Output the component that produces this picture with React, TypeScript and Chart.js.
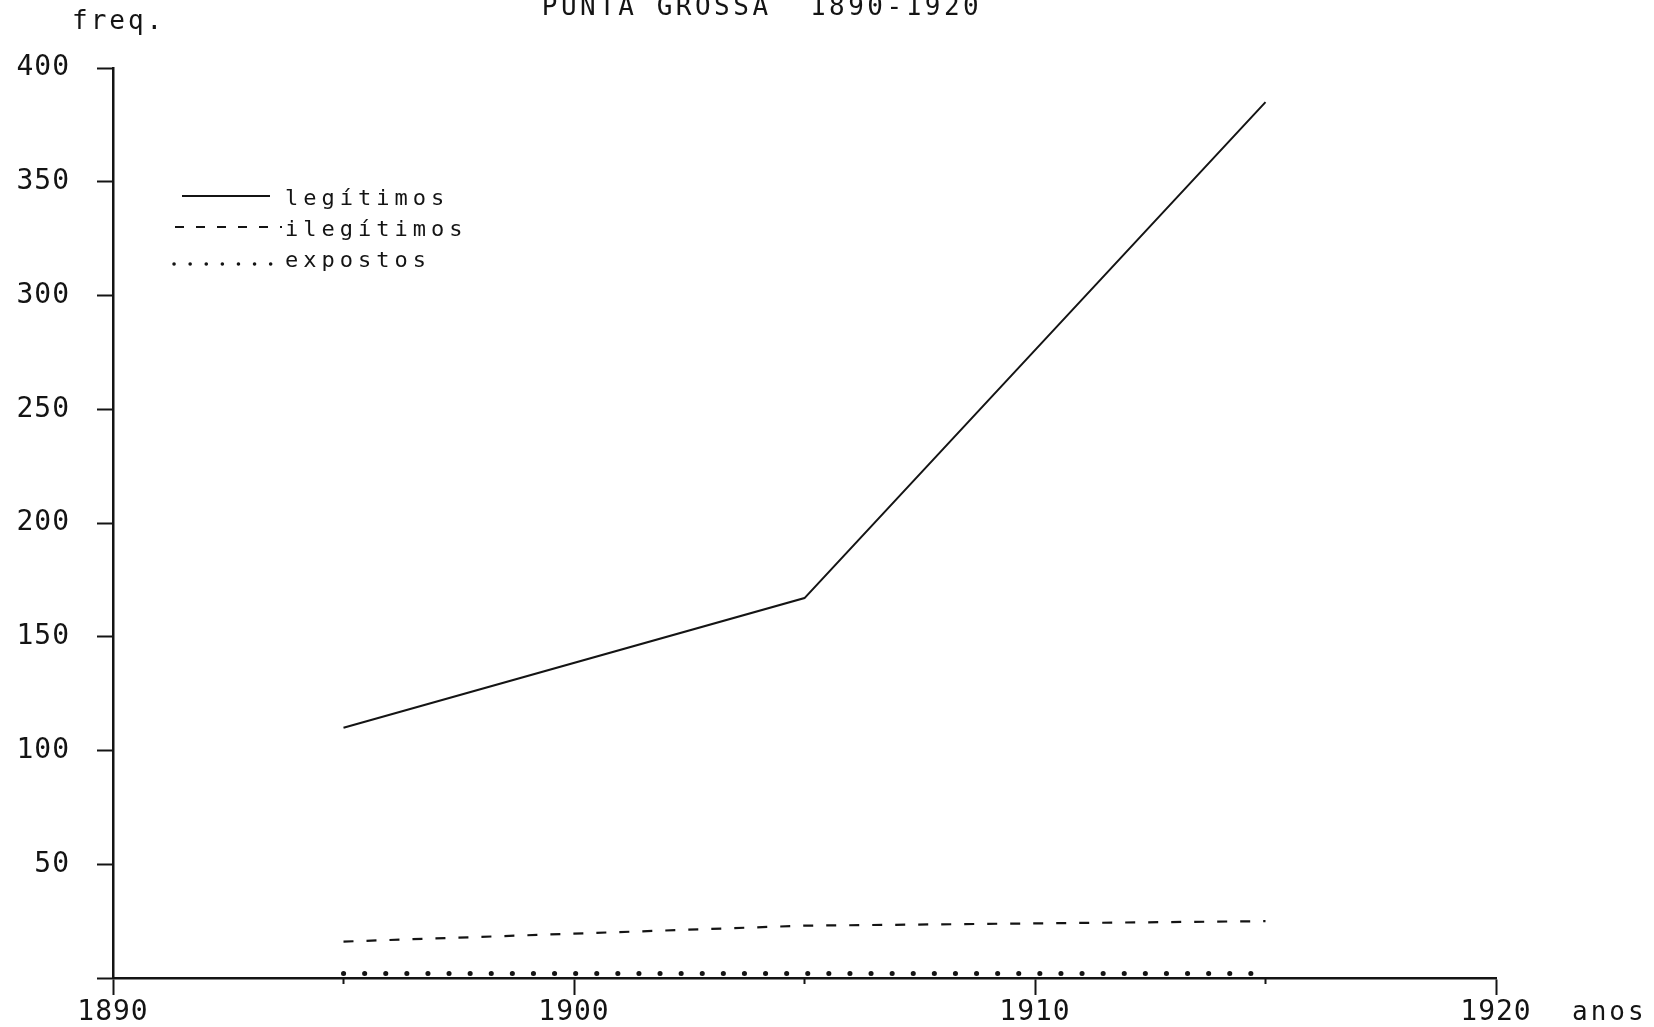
import React, { useEffect, useRef } from 'react';
import { Chart, registerables } from 'chart.js';

Chart.register(...registerables);

const chartTitle = 'PUNTA GROSSA  1890-1920';
const yAxisTitle = 'freq.';
const xAxisTitle = 'anos';
const years = [1895, 1905, 1915];
const legitimos = [110, 167, 385];
const ilegitimos = [16, 23, 25];
const expostos = [2, 2, 2];
const seriesNames = ['legítimos', 'ilegítimos', 'expostos'];
const xTickValues = [1890, 1900, 1910, 1920];
const minorXTickValues = [1895, 1905, 1915];
const yTickValues = [0, 50, 100, 150, 200, 250, 300, 350, 400];

const INK = '#141414';
const FONT = '"DejaVu Sans Mono", "Liberation Mono", monospace';

const decorPlugin = {
  id: 'decor',
  beforeUpdate(chart: any) {
    chart.ctx.letterSpacing = '1px';
  },
  beforeDraw(chart: any) {
    const ctx = chart.ctx;
    ctx.save();
    ctx.fillStyle = '#ffffff';
    ctx.fillRect(0, 0, chart.width, chart.height);
    ctx.restore();
    ctx.letterSpacing = '1px';
  },
  afterDraw(chart: any) {
    const ctx = chart.ctx;
    const xs = chart.scales.x;
    const ys = chart.scales.y;
    ctx.save();
    ctx.fillStyle = INK;
    ctx.strokeStyle = INK;

    // title (partly cut at top, as in the scan)
    ctx.font = `26px ${FONT}`;
    ctx.letterSpacing = '3.5px';
    ctx.textAlign = 'center';
    ctx.textBaseline = 'alphabetic';
    ctx.fillText(chartTitle, 762, 15);

    // axis titles
    ctx.font = `26px ${FONT}`;
    ctx.letterSpacing = '3px';
    ctx.textAlign = 'left';
    ctx.fillText(yAxisTitle, 72, 29);
    ctx.fillText(xAxisTitle, 1572, 1020);

    // minor ticks on x axis
    ctx.lineWidth = 2;
    const yb = ys.getPixelForValue(0);
    minorXTickValues.forEach((v) => {
      const px = xs.getPixelForValue(v);
      ctx.beginPath();
      ctx.moveTo(px, yb);
      ctx.lineTo(px, yb + 6);
      ctx.stroke();
    });

    // legend
    const baselines = [205, 236, 267];
    chart.data.datasets.forEach((ds: any, i: number) => {
      const by = baselines[i];
      ctx.save();
      ctx.strokeStyle = ds.borderColor;
      ctx.lineWidth = i === 2 ? 3.5 : ds.borderWidth;
      ctx.lineCap = ds.borderCapStyle || 'butt';
      ctx.setLineDash(i === 2 ? [0.1, 16] : i === 1 ? [9, 12] : []);
      ctx.beginPath();
      const ly = i === 2 ? by - 3 : by - 9;
      ctx.moveTo(i === 0 ? 182 : i === 1 ? 175 : 174, ly);
      ctx.lineTo(i === 0 ? 270 : 282, ly);
      ctx.stroke();
      ctx.restore();
      ctx.font = `22px ${FONT}`;
      ctx.letterSpacing = '5px';
      ctx.textAlign = 'left';
      ctx.fillText(ds.label, 285, by);
    });
    ctx.restore();
  },
};

export default function App() {
  const ref = useRef<HTMLCanvasElement>(null);
  useEffect(() => {
    if (!ref.current) return;
    const chart = new Chart(ref.current, {
      type: 'line',
      data: {
        datasets: [
          {
            label: seriesNames[0],
            data: years.map((y, i) => ({ x: y, y: legitimos[i] })),
            borderColor: INK,
            borderWidth: 2,
            pointRadius: 0,
            tension: 0,
          },
          {
            label: seriesNames[1],
            data: years.map((y, i) => ({ x: y, y: ilegitimos[i] })),
            borderColor: INK,
            borderWidth: 2.2,
            borderDash: [10, 13],
            pointRadius: 0,
            tension: 0,
          },
          {
            label: seriesNames[2],
            data: years.map((y, i) => ({ x: y, y: expostos[i] })),
            borderColor: INK,
            borderWidth: 5,
            borderDash: [0.1, 21],
            borderCapStyle: 'round',
            pointRadius: 0,
            tension: 0,
          },
        ],
      } as any,
      options: {
        animation: false,
        responsive: false,
        devicePixelRatio: 1,
        layout: { padding: { top: 68, right: 158, left: 0, bottom: 0 } },
        plugins: {
          legend: { display: false },
          title: { display: false },
          tooltip: { enabled: false },
        },
        scales: {
          x: {
            type: 'linear',
            min: 1890,
            max: 1920,
            afterBuildTicks: (s: any) => {
              s.ticks = xTickValues.map((v) => ({ value: v }));
            },
            afterFit: (s: any) => {
              s.height = 49;
            },
            grid: {
              drawOnChartArea: false,
              drawTicks: true,
              tickLength: 17,
              tickColor: INK,
              tickWidth: 2,
            },
            border: { display: true, color: INK, width: 2.5 },
            ticks: {
              color: INK,
              font: { family: FONT, size: 28 },
              padding: 1,
              maxRotation: 0,
              autoSkip: false,
              callback: (v: any) => String(v),
            },
          },
          y: {
            type: 'linear',
            min: 0,
            max: 400,
            afterBuildTicks: (s: any) => {
              s.ticks = yTickValues.map((v) => ({ value: v }));
            },
            afterFit: (s: any) => {
              s.width = 113;
            },
            grid: {
              drawOnChartArea: false,
              drawTicks: true,
              tickLength: 16,
              tickColor: INK,
              tickWidth: 2,
            },
            border: { display: true, color: INK, width: 2.5 },
            ticks: {
              color: INK,
              font: { family: FONT, size: 28 },
              padding: 27,
              autoSkip: false,
              callback: (v: any) => (v === 0 ? '' : String(v)),
            },
          },
        },
      } as any,
      plugins: [decorPlugin],
    });
    return () => chart.destroy();
  }, []);
  return (
    <div style={{ position: 'absolute', left: 0, top: 0, width: 1654, height: 1027, background: '#fff' }}>
      <canvas ref={ref} width={1654} height={1027} style={{ display: 'block' }} />
    </div>
  );
}
